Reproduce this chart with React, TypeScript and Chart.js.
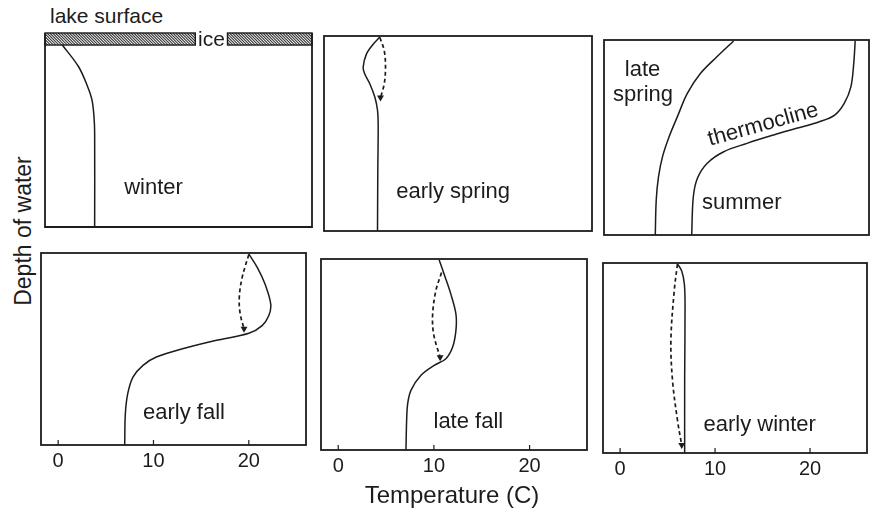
import React, { useEffect, useRef } from "react";
import { Chart, registerables } from "chart.js";

Chart.register(...registerables);

// ---------- data (temperature in °C, depth as % of lake depth, 0 = surface) ----------
const TEMP_TICKS = [0, 10, 20];

const winterTemp = [0, 1.7, 2.64, 3.09, 3.3, 3.37, 3.37];
const winterDepth = [6.2, 17.4, 27.7, 34.5, 43.1, 51.7, 100];

const earlySpringTemp = [3.99, 3.3, 2.6, 2.26, 2.43, 2.95, 3.47, 3.75, 3.82, 3.78, 3.75];
const earlySpringDepth = [0.5, 4.2, 9.3, 16.1, 19.5, 24.5, 31.3, 38, 44.8, 70, 100];
const earlySpringMixTemp = [4.0, 4.45, 4.58, 4.45, 4.06];
const earlySpringMixDepth = [0.8, 7.6, 16.1, 24.5, 31.6];

const lateSpringTemp = [11.8, 10.07, 8.33, 6.94, 5.9, 5.03, 4.34, 3.92, 3.68, 3.58];
const lateSpringDepth = [0.5, 8.5, 17.1, 27.4, 39.3, 49.6, 59.8, 70.1, 82, 100];

const summerTemp = [24.55, 24.4, 24.1, 23.4, 22.4, 20.8, 18.4, 16.0, 13.2, 10.76, 9.03, 8.0, 7.57, 7.4];
const summerDepth = [0.5, 12, 24, 32.5, 38.5, 41.9, 45.3, 48.7, 53, 57.3, 63.2, 70.9, 80.4, 100];

const earlyFallTemp = [20, 20.9, 21.7, 22.3, 22.1, 21.4, 20, 16.5, 13.05, 10.3, 8.9, 7.85, 7.3, 7.05, 6.98];
const earlyFallDepth = [0.5, 7.6, 16.2, 26.6, 32.6, 37.8, 41.8, 45.6, 49.9, 54.2, 58.5, 64.6, 73.2, 83.6, 100];
const earlyFallMixTemp = [20, 19.3, 19.0, 19.1, 19.5];
const earlyFallMixDepth = [0.8, 12.8, 23.2, 31.8, 39.5];

const lateFallTemp = [10.55, 11.07, 11.77, 12.3, 12.3, 11.95, 11.25, 10.03, 8.65, 7.6, 7.26, 7.15, 7.08];
const lateFallDepth = [0.5, 8, 18.4, 28.8, 37.5, 46.2, 52.2, 55.7, 60.9, 68.75, 75.7, 84.4, 100];
const lateFallMixTemp = [10.8, 10.2, 9.86, 10.0, 10.65];
const lateFallMixDepth = [7.1, 16.7, 29.7, 40.1, 51.4];

const earlyWinterTemp = [6.04, 6.49, 6.77, 6.84, 6.8, 6.8];
const earlyWinterDepth = [0.5, 4.2, 11.2, 23.2, 60, 100];
const earlyWinterMixTemp = [6.04, 5.7, 5.35, 5.52, 6.04, 6.49];
const earlyWinterMixDepth = [0.5, 14.7, 40.8, 61.8, 82.7, 95.8];

const ICE_DEPTH = 6.2;
const ICE_GAP = [13.85, 17.2];

// ---------- styling / layout ----------
const FONT = '"Liberation Sans", Arial, Helvetica, sans-serif';
const INK = "#1c1c1c";
const X_MIN = -1.8;
const X_MAX = 26;
const PAD = 3;
const AXIS_H = 40;

type Series = { temp: number[]; depth: number[]; dashed?: boolean };
type Note = { text: string; x: number; y: number; rot?: number };
type Panel = {
  id: string;
  box: { left: number; top: number; width: number; height: number };
  series: Series[];
  notes: Note[];
  ticks?: boolean;
  ice?: boolean;
};

const panels: Panel[] = [
  {
    id: "winter",
    box: { left: 45, top: 33, width: 267, height: 194 },
    series: [{ temp: winterTemp, depth: winterDepth }],
    notes: [{ text: "winter", x: 9.5, y: 80 }],
    ice: true,
  },
  {
    id: "earlySpring",
    box: { left: 323, top: 35, width: 270, height: 197 },
    series: [
      { temp: earlySpringTemp, depth: earlySpringDepth },
      { temp: earlySpringMixTemp, depth: earlySpringMixDepth, dashed: true },
    ],
    notes: [{ text: "early spring", x: 11.6, y: 80.2 }],
  },
  {
    id: "lateSpringSummer",
    box: { left: 604, top: 40, width: 265, height: 195 },
    series: [
      { temp: lateSpringTemp, depth: lateSpringDepth },
      { temp: summerTemp, depth: summerDepth },
    ],
    notes: [
      { text: "late", x: 2.24, y: 15.4 },
      { text: "spring", x: 2.3, y: 28.2 },
      { text: "thermocline", x: 14.9, y: 43.5, rot: -15.5 },
      { text: "summer", x: 12.65, y: 83.6 },
    ],
  },
  {
    id: "earlyFall",
    box: { left: 40, top: 252, width: 267, height: 193 },
    series: [
      { temp: earlyFallTemp, depth: earlyFallDepth },
      { temp: earlyFallMixTemp, depth: earlyFallMixDepth, dashed: true },
    ],
    notes: [{ text: "early fall", x: 13.2, y: 83.4 }],
    ticks: true,
  },
  {
    id: "lateFall",
    box: { left: 320, top: 258, width: 268, height: 192 },
    series: [
      { temp: lateFallTemp, depth: lateFallDepth },
      { temp: lateFallMixTemp, depth: lateFallMixDepth, dashed: true },
    ],
    notes: [{ text: "late fall", x: 13.6, y: 85.4 }],
    ticks: true,
  },
  {
    id: "earlyWinter",
    box: { left: 602, top: 262, width: 266, height: 191 },
    series: [
      { temp: earlyWinterTemp, depth: earlyWinterDepth },
      { temp: earlyWinterMixTemp, depth: earlyWinterMixDepth, dashed: true },
    ],
    notes: [{ text: "early winter", x: 14.7, y: 85.3 }],
    ticks: true,
  },
];

const decorPlugin = {
  id: "panelDecor",
  afterDraw(chart: any, _args: any, opts: any) {
    const p: Panel = opts.panel;
    const { ctx, chartArea } = chart;
    const xs = chart.scales.x;
    const ys = chart.scales.y;
    ctx.save();

    // ice layer
    if (p.ice) {
      const top = chartArea.top;
      const bottom = ys.getPixelForValue(ICE_DEPTH);
      const gapL = xs.getPixelForValue(ICE_GAP[0]);
      const gapR = xs.getPixelForValue(ICE_GAP[1]);
      const pieces = [
        [chartArea.left, gapL],
        [gapR, chartArea.right],
      ];
      const h = bottom - top;
      for (const [a, b] of pieces) {
        ctx.save();
        ctx.beginPath();
        ctx.rect(a, top, b - a, h);
        ctx.clip();
        ctx.strokeStyle = "#333";
        ctx.lineWidth = 1.1;
        ctx.beginPath();
        for (let x = a - h; x < b + h; x += 2.8) {
          ctx.moveTo(x, top);
          ctx.lineTo(x + h, bottom);
        }
        ctx.stroke();
        ctx.restore();
        ctx.strokeStyle = INK;
        ctx.lineWidth = 1.4;
        ctx.strokeRect(a, top, b - a, h);
      }
      ctx.fillStyle = INK;
      ctx.font = `21px ${FONT}`;
      ctx.textAlign = "center";
      ctx.textBaseline = "middle";
      ctx.fillText("ice", (gapL + gapR) / 2, (top + bottom) / 2 + 1);
    }

    // frame
    ctx.strokeStyle = INK;
    ctx.lineWidth = 1.8;
    if (p.ice) {
      ctx.beginPath();
      ctx.moveTo(chartArea.left, chartArea.top);
      ctx.lineTo(chartArea.left, chartArea.bottom);
      ctx.lineTo(chartArea.right, chartArea.bottom);
      ctx.lineTo(chartArea.right, chartArea.top);
      ctx.stroke();
    } else {
      ctx.strokeRect(
        chartArea.left,
        chartArea.top,
        chartArea.right - chartArea.left,
        chartArea.bottom - chartArea.top
      );
    }

    // inner tick marks
    if (p.ticks) {
      ctx.lineWidth = 1.2;
      ctx.beginPath();
      for (const v of TEMP_TICKS) {
        const x = xs.getPixelForValue(v);
        ctx.moveTo(x, chartArea.bottom);
        ctx.lineTo(x, chartArea.bottom - 5);
      }
      ctx.stroke();
    }

    // notes
    ctx.fillStyle = INK;
    ctx.font = `22px ${FONT}`;
    ctx.textAlign = "center";
    ctx.textBaseline = "middle";
    for (const n of p.notes) {
      const px = xs.getPixelForValue(n.x);
      const py = ys.getPixelForValue(n.y);
      ctx.save();
      ctx.translate(px, py);
      if (n.rot) ctx.rotate((n.rot * Math.PI) / 180);
      ctx.fillText(n.text, 0, 0);
      ctx.restore();
    }
    ctx.restore();
  },
};

function PanelChart({ panel }: { panel: Panel }) {
  const ref = useRef<HTMLCanvasElement | null>(null);
  const w = panel.box.width + 2 * PAD;
  const h = panel.box.height + 2 * PAD + (panel.ticks ? AXIS_H : 0);

  useEffect(() => {
    if (!ref.current) return;
    const datasets = panel.series.map((s) => {
      const n = s.temp.length;
      return {
        data: s.temp.map((t, i) => ({ x: t, y: s.depth[i] })),
        showLine: true,
        borderColor: INK,
        backgroundColor: INK,
        borderWidth: s.dashed ? 1.7 : 1.5,
        borderDash: s.dashed ? [4, 3] : [],
        tension: 0.35,
        pointStyle: "triangle",
        pointRotation: 180,
        pointRadius: (c: any) => (s.dashed && c.dataIndex === n - 1 ? 4 : 0),
        pointBorderWidth: 0,
        pointHoverRadius: 0,
      };
    });
    const xScale: any = {
      type: "linear",
      min: X_MIN,
      max: X_MAX,
      display: !!panel.ticks,
      grid: { display: false, drawTicks: false },
      border: { display: false },
      afterBuildTicks: (s: any) => {
        s.ticks = TEMP_TICKS.map((v) => ({ value: v }));
      },
      ticks: {
        color: INK,
        font: { size: 20, family: FONT },
        padding: 4,
        autoSkip: false,
        maxRotation: 0,
      },
    };
    if (panel.ticks) {
      xScale.afterFit = (s: any) => {
        s.height = AXIS_H;
      };
    }
    const chart = new Chart(ref.current, {
      type: "scatter",
      data: { datasets: datasets as any },
      options: {
        animation: false,
        responsive: false,
        devicePixelRatio: 1,
        layout: { padding: PAD },
        events: [],
        plugins: {
          legend: { display: false },
          tooltip: { enabled: false },
          panelDecor: { panel },
        } as any,
        scales: {
          x: xScale,
          y: {
            type: "linear",
            min: 0,
            max: 100,
            reverse: true,
            display: false,
          },
        },
      },
      plugins: [decorPlugin],
    } as any);
    return () => chart.destroy();
  }, [panel]);

  return (
    <canvas
      ref={ref}
      width={w}
      height={h}
      style={{
        position: "absolute",
        left: panel.box.left - PAD,
        top: panel.box.top - PAD,
        width: w,
        height: h,
      }}
    />
  );
}

export default function App() {
  const text: React.CSSProperties = {
    position: "absolute",
    fontFamily: FONT,
    color: INK,
    whiteSpace: "nowrap",
    lineHeight: 1,
  };
  return (
    <div
      style={{
        position: "absolute",
        left: 0,
        top: 0,
        width: 874,
        height: 517,
        background: "#fff",
        overflow: "hidden",
      }}
    >
      {panels.map((p) => (
        <PanelChart key={p.id} panel={p} />
      ))}
      <div style={{ ...text, left: 50, top: 5, fontSize: 21 }}>lake surface</div>
      <div
        style={{
          ...text,
          left: 23,
          top: 231,
          fontSize: 23,
          transform: "translate(-50%, -50%) rotate(-90deg)",
        }}
      >
        Depth of water
      </div>
      <div
        style={{
          ...text,
          left: 452,
          top: 495,
          fontSize: 24,
          transform: "translate(-50%, -50%)",
        }}
      >
        Temperature (C)
      </div>
    </div>
  );
}
